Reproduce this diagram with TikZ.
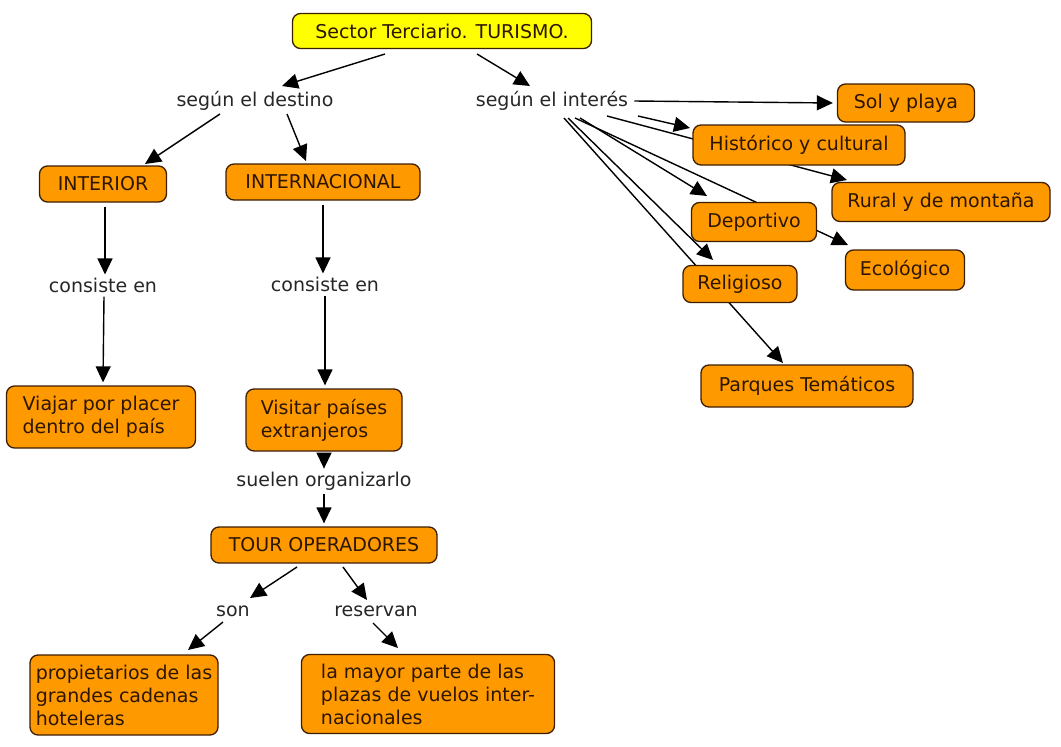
\documentclass[tikz,border=0pt]{standalone}
\usepackage{fontspec}
\setmainfont{DejaVu Sans}
\usetikzlibrary{arrows.meta,calc,backgrounds}
\definecolor{boxfill}{RGB}{255,153,0}
\definecolor{boxline}{RGB}{60,30,0}
\definecolor{topfill}{RGB}{255,255,0}
\definecolor{boxtext}{RGB}{45,22,0}
\begin{document}
\begin{tikzpicture}[x=1pt,y=-1pt,
  concept/.style={draw=boxline, line width=1.3pt, fill=boxfill, rounded corners=8pt,
    inner sep=0pt, text=boxtext, font=\fontsize{19}{23}\selectfont},
  linkphrase/.style={inner sep=2pt, text=black!85, font=\fontsize{19}{23}\selectfont},
  arr/.style={-{Triangle[length=16pt,width=15pt]}, line width=1.4pt, black}]
\useasboundingbox (0,0) rectangle (1061,747);
% concepts
\node[concept, fill=topfill, minimum width=299pt, minimum height=35pt] (top) at (442,31) {Sector Terciario. TURISMO.};
\node[linkphrase] (destino) at (255,101) {según el destino};
\node[linkphrase] (interes) at (552,101) {según el interés};
\node[concept, minimum width=127pt, minimum height=36pt] (interior) at (103,184) {INTERIOR};
\node[concept, minimum width=194pt, minimum height=36pt] (internac) at (323,182) {INTERNACIONAL};
\node[linkphrase] (cons1) at (103,285) {consiste en};
\node[linkphrase] (cons2) at (325,284) {consiste en};
\node[concept, minimum width=189pt, minimum height=62pt, align=left] (viajar) at (101,417) {Viajar por placer\\dentro del país};
\node[concept, minimum width=156pt, minimum height=62pt, align=left] (visitar) at (324,420) {Visitar países\\extranjeros};
\node[linkphrase] (suelen) at (324,481) {suelen organizarlo};
\node[concept, minimum width=226pt, minimum height=36pt] (tour) at (324,545) {TOUR OPERADORES};
\node[linkphrase] (son) at (233,611) {son};
\node[linkphrase] (reservan) at (376,611) {reservan};
\node[concept, minimum width=188pt, minimum height=80pt, align=left] (prop) at (124,695) {propietarios de las\\grandes cadenas\\hoteleras};
\node[concept, minimum width=253pt, minimum height=79pt, align=left] (mayor) at (428,694) {la mayor parte de las\\plazas de vuelos inter-\\nacionales};
% right side
\node[concept, minimum width=137pt, minimum height=38pt] (sol) at (906,103) {Sol y playa};
\node[concept, minimum width=212pt, minimum height=40pt] (hist) at (799,145) {Histórico y cultural};
\node[concept, minimum width=218pt, minimum height=39pt] (rural) at (941,202) {Rural y de montaña};
\node[concept, minimum width=125pt, minimum height=39pt] (dep) at (754,222) {Deportivo};
\node[concept, minimum width=119pt, minimum height=40pt] (eco) at (905,270) {Ecológico};
\node[concept, minimum width=114pt, minimum height=37pt] (rel) at (740,284) {Religioso};
\node[concept, minimum width=212pt, minimum height=42pt] (parq) at (807,386) {Parques Temáticos};
% connectors
\begin{scope}[on background layer]
\draw[arr] ($(top)+(-57,23)$) -- ($(destino)+(27,-15)$);
\draw[arr] ($(top)+(35,23)$) -- ($(interes)+(-22,-15)$);
\draw[arr] ($(destino)+(-35,13)$) -- ($(interior)+(42,-20)$);
\draw[arr] ($(destino)+(32,13)$) -- ($(internac)+(-17,-21)$);
\draw[arr] ($(interior.south)+(2,4)$) -- ($(cons1.north)+(2,-1)$);
\draw[arr] ($(cons1.south)+(1,2)$) -- ($(viajar.north)+(2,-3)$);
\draw[arr] ($(internac.south)+(0,4)$) -- ($(cons2.north)+(-2,-1)$);
\draw[arr] ($(cons2.south)+(0,2)$) -- ($(visitar.north)+(1,-3)$);
\draw[arr] ($(visitar.south)+(0,3)$) -- ($(suelen.north)+(0,-1)$);
\draw[arr] ($(suelen.south)+(0,2)$) -- ($(tour.north)+(0,-3)$);
\draw[arr] ($(tour)+(-27,22)$) -- ($(son)+(17,-13)$);
\draw[arr] ($(tour)+(19,22)$) -- ($(reservan)+(-9,-11)$);
\draw[arr] ($(son)+(-10,11)$) -- ($(prop)+(64,-45)$);
\draw[arr] ($(reservan)+(-3,12)$) -- ($(mayor)+(-30,-46)$);
\draw[arr] ($(interes.east)+(4,0)$) -- ($(sol.west)+(-4,0)$);
\draw[arr] ($(interes)+(86,15)$) -- ($(hist)+(-109,-17)$);
\draw[arr] ($(interes)+(55,15)$) -- ($(rural)+(-94,-22)$);
\draw[arr] ($(interes)+(28,17)$) -- ($(dep)+(-47,-26)$);
\draw[arr] ($(interes)+(23,17)$) -- ($(eco)+(-57,-25)$);
\draw[arr] ($(interes)+(16,17)$) -- ($(rel)+(-27,-24)$);
\draw[arr] ($(interes)+(12,17)$) -- ($(parq)+(-24,-23)$);
\end{scope}
\end{tikzpicture}
\end{document}
